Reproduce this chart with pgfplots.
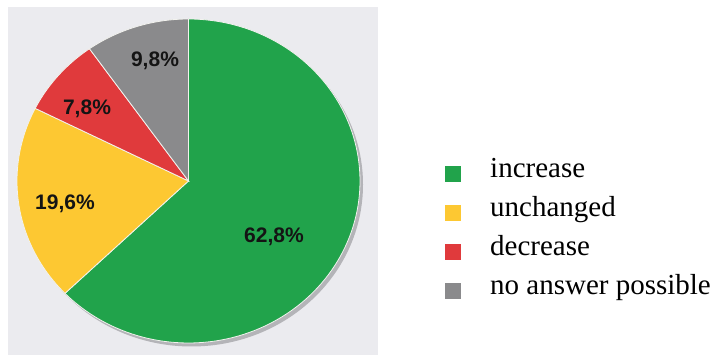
\documentclass[border=0pt]{standalone}
\usepackage{pgfplots}
\usepackage{pgfplotstable}
\pgfplotsset{compat=1.18}
\usepackage{fontspec}
\setmainfont{Liberation Serif}
\newfontfamily\labfont{Liberation Sans}

\definecolor{pgreen}{HTML}{21A34B}
\definecolor{pyellow}{HTML}{FDC832}
\definecolor{pred}{HTML}{E03A3C}
\definecolor{pgray}{HTML}{8A8A8C}
\definecolor{bgcol}{HTML}{EBEBEF}
\definecolor{shadowcol}{HTML}{B4B4B8}
\definecolor{edgecol}{HTML}{F2F2EE}

\pgfplotstableread{
category value
increase 62.8
unchanged 19.6
decrease 7.8
noanswer 9.8
}\piedata

\begin{document}%
\begin{tikzpicture}
\pgfplotstablegetelem{0}{value}\of\piedata \let\vA\pgfplotsretval
\pgfplotstablegetelem{1}{value}\of\piedata \let\vB\pgfplotsretval
\pgfplotstablegetelem{2}{value}\of\piedata \let\vC\pgfplotsretval
\pgfplotstablegetelem{3}{value}\of\piedata \let\vD\pgfplotsretval
\pgfmathsetmacro\aZ{90}
\pgfmathsetmacro\aA{90-3.6*\vA}
\pgfmathsetmacro\aB{\aA-3.6*\vB}
\pgfmathsetmacro\aC{\aB-3.6*\vC}
\pgfmathsetmacro\aD{\aC-3.6*\vD}
\def\cx{188.5}
\def\cy{174}
\def\rx{171.5}
\def\ry{162}
\begin{axis}[
  at={(0,0)}, anchor=south west,
  width=715pt, height=355pt, scale only axis,
  xmin=0, xmax=715, ymin=0, ymax=355,
  hide axis, clip=false,
  legend cell align=left,
  legend image code/.code={\fill[#1,draw=none] (0pt,-12pt) rectangle (16pt,4pt);},
  legend style={draw=none, fill=none, inner sep=0pt,
    at={(axis cs:445,198)}, anchor=north west,
    font=\fontsize{29}{34}\selectfont,
    row sep=13pt,
    nodes={inner sep=0pt, text height=20pt, text depth=6pt},
    /tikz/every odd column/.append style={column sep=29pt}},
]
\fill[bgcol] (axis cs:8,0) rectangle (axis cs:378,348);
\fill[shadowcol] (axis cs:191.5,170.5) ellipse [x radius=171.5pt, y radius=162pt];

\addplot[fill=pgreen, draw=edgecol, line width=0.8pt, domain=\aA:\aZ, samples=120, variable=\t]
  ({\cx+\rx*cos(\t)},{\cy+\ry*sin(\t)}) -- (axis cs:\cx,\cy) -- cycle;
\addlegendentry{increase}
\addplot[fill=pyellow, draw=edgecol, line width=0.8pt, domain=\aB:\aA, samples=60, variable=\t]
  ({\cx+\rx*cos(\t)},{\cy+\ry*sin(\t)}) -- (axis cs:\cx,\cy) -- cycle;
\addlegendentry{unchanged}
\addplot[fill=pred, draw=edgecol, line width=0.8pt, domain=\aC:\aB, samples=40, variable=\t]
  ({\cx+\rx*cos(\t)},{\cy+\ry*sin(\t)}) -- (axis cs:\cx,\cy) -- cycle;
\addlegendentry{decrease}
\addplot[fill=pgray, draw=edgecol, line width=0.8pt, domain=\aD:\aC, samples=40, variable=\t]
  ({\cx+\rx*cos(\t)},{\cy+\ry*sin(\t)}) -- (axis cs:\cx,\cy) -- cycle;
\addlegendentry{no answer possible}

\begin{scope}[every node/.style={font=\labfont\bfseries\fontsize{21}{21}\selectfont, text=black!92}]
\node at (axis cs:155,294) {9,8\%};
\node at (axis cs:87,246) {7,8\%};
\node at (axis cs:65,151) {19,6\%};
\node at (axis cs:274,118) {62,8\%};
\end{scope}
\end{axis}
\pgfresetboundingbox
\path (0,0) rectangle (715pt,355pt);
\end{tikzpicture}%
\end{document}
